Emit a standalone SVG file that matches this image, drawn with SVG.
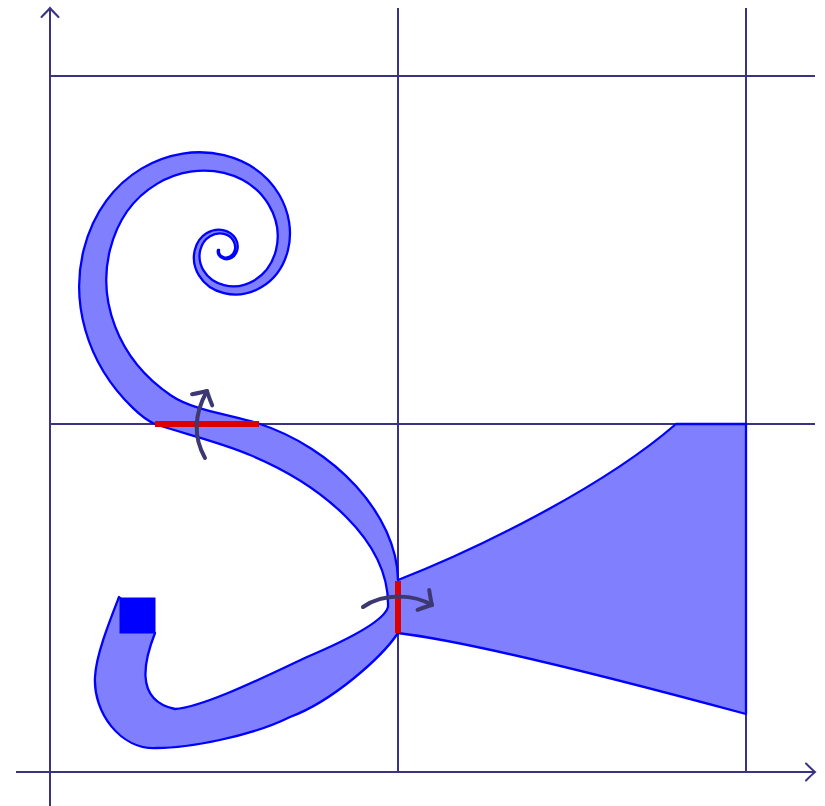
<svg xmlns="http://www.w3.org/2000/svg" width="825" height="806" viewBox="0 0 825 806">
<defs>
<style>
.grid{stroke:#3a3282;stroke-width:2;fill:none}
.axis{stroke:#3a3282;stroke-width:2;fill:none}
.band{fill:#8080ff;stroke:#0000ff;stroke-width:2.3;stroke-linejoin:round}
.cut{stroke:#dd0000;stroke-width:6;fill:none}
.flow{stroke:#3e3872;stroke-width:4;fill:none;stroke-linecap:round}
</style>
<marker id="axhead" markerUnits="userSpaceOnUse" orient="auto" refX="0" refY="0" markerWidth="30" markerHeight="30" viewBox="-15 -15 30 30" overflow="visible">
<path d="M -9,-8.5 Q -3,-2.5 0,0 Q -3,2.5 -9,8.5" fill="none" stroke="#3a3282" stroke-width="2" stroke-linecap="round"/>
</marker>
<marker id="flowhead" markerUnits="userSpaceOnUse" orient="auto" refX="0" refY="0" markerWidth="40" markerHeight="40" viewBox="-20 -20 40 40" overflow="visible">
<path d="M -10,-11.5 Q -4,-4 0,0 Q -4,4 -10,11.5" fill="none" stroke="#3e3872" stroke-width="4" stroke-linecap="round" stroke-linejoin="round"/>
</marker>
</defs>
<g id="grid">
<line class="grid" x1="50" y1="76" x2="815" y2="76"/>
<line class="grid" x1="50" y1="424" x2="815" y2="424"/>
<line class="grid" x1="398" y1="8" x2="398" y2="772"/>
<line class="grid" x1="746" y1="8" x2="746" y2="772"/>
</g>
<g id="axes">
<line class="axis" x1="16" y1="772" x2="815" y2="772" marker-end="url(#axhead)"/>
<line class="axis" x1="50" y1="806" x2="50" y2="8" marker-end="url(#axhead)"/>
</g>
<g id="ribbon">
<path class="band" d="M 155,633 C 146,656 132,700 175,709 C 205,707 270.6,673.8 307,657 C 340,643 384,622 388,607 C 390,540 320,484 250,455 C 223,443 185,434 155,424 C 146,420.5 140.2,415.1 132.81,407.94 C 84.52,361.25 71.09,300.15 83.63,250 C 103.01,172.47 171.65,142.13 224,155.22 C 276.35,168.31 296.84,214.65 288,250 C 279.16,285.35 247.86,299.18 224,293.21 C 200.14,287.24 190.79,266.12 194.82,250 C 198.85,233.88 213.12,227.58 224,230.30 C 234.88,233.02 239.14,242.65 237.30,250 C 235.46,257.35 228.96,260.22 224,258.98 C 219.04,257.74 217.10,253.35 217.94,250 L 219.08,250 C 218.40,252.72 219.97,256.29 224,257.30 C 228.03,258.31 233.32,255.97 234.81,250 C 236.30,244.03 232.84,236.20 224,233.99 C 215.16,231.78 203.56,236.91 200.29,250 C 197.02,263.09 204.61,280.26 224,285.11 C 243.39,289.96 268.82,278.72 276,250 C 283.18,221.28 266.53,183.62 224,172.99 C 181.47,162.36 125.70,187.01 109.95,250 C 97.96,297.95 115.47,357.91 171.06,395.46 C 192.4,409.9 227,414 257,423 C 335,448 397,515 398,580 C 470,552 600,490 676,424 L 746,424 L 746,714 C 650,688 480,643 398,633 C 382,657 333,701 290,717 C 250,737 187,748 157,748 C 120,750 93,712 95,677 C 96,655 110,620 119,597 Z"/>
</g>
<g id="start-square">
<rect x="119.5" y="597.5" width="36" height="36" fill="#0000ff"/>
</g>
<g id="cuts">
<line class="cut" x1="155" y1="424" x2="259" y2="424"/>
<line class="cut" x1="398" y1="581" x2="398" y2="633"/>
</g>
<g id="connectors">
<path class="flow" d="M 205,458 C 191,433 197,409 207,391" marker-end="url(#flowhead)"/>
<path class="flow" d="M 363,607 C 385,592 415,595 432,605" marker-end="url(#flowhead)"/>
</g>
</svg>
